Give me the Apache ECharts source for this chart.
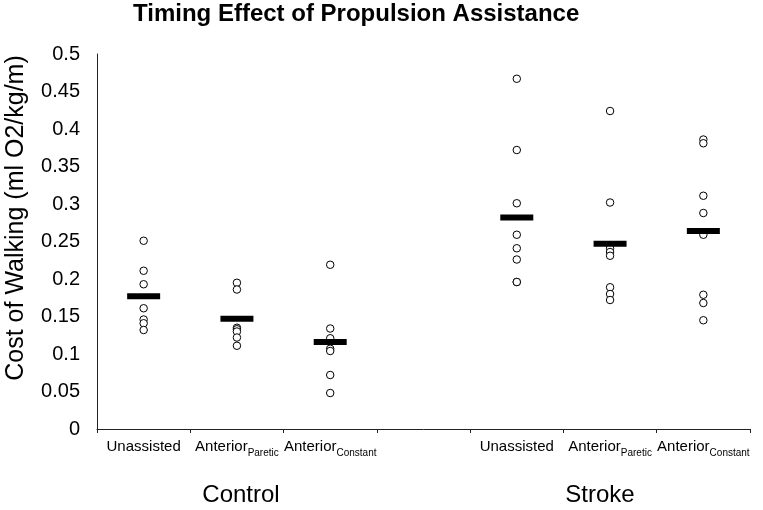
<!DOCTYPE html>
<html>
<head>
<meta charset="utf-8">
<script src="https://cdn.jsdelivr.net/npm/echarts@6/dist/echarts.min.js"></script>
<style>html,body{margin:0;padding:0;background:#fff;}#chart{width:763px;height:510px;}</style>
</head>
<body>
<div id="chart"></div>
<script>
const titleText = 'Timing Effect of Propulsion Assistance';
const yAxisTitle = 'Cost of Walking (ml O2/kg/m)';
const categoryLabels = ['Unassisted', 'Anterior', 'Anterior', '', 'Unassisted', 'Anterior', 'Anterior'];
const categorySubs = ['', 'Paretic', 'Constant', '', '', 'Paretic', 'Constant'];
const groupNames = ['Control', 'Stroke'];
const yTicks = [0, 0.05, 0.1, 0.15, 0.2, 0.25, 0.3, 0.35, 0.4, 0.45, 0.5];

const controlUnassisted = [0.251, 0.211, 0.193, 0.161, 0.146, 0.141, 0.132];
const controlParetic = [0.195, 0.186, 0.135, 0.133, 0.130, 0.122, 0.111];
const controlConstant = [0.219, 0.134, 0.121, 0.107, 0.104, 0.072, 0.048];
const strokeUnassisted = [0.467, 0.372, 0.301, 0.259, 0.241, 0.226, 0.196, 0.196];
const strokeParetic = [0.424, 0.302, 0.241, 0.236, 0.231, 0.189, 0.180, 0.172];
const strokeConstant = [0.386, 0.381, 0.311, 0.288, 0.259, 0.179, 0.168, 0.145];
const groupMeans = [0.177, 0.147, 0.116, null, 0.282, 0.247, 0.264];

const seriesByCategory = [controlUnassisted, controlParetic, controlConstant, [], strokeUnassisted, strokeParetic, strokeConstant];

const pointData = [];
seriesByCategory.forEach((vals, ci) => vals.forEach(v => pointData.push([ci, v])));
const meanData = [];
groupMeans.forEach((v, ci) => { if (v !== null) meanData.push([ci, v]); });

const FONT = 'Liberation Sans, Arial, sans-serif';
const chart = echarts.init(document.getElementById('chart'), null, {renderer: 'canvas'});
const yMin = yTicks[0], yMax = yTicks[yTicks.length - 1], yStep = yTicks[1] - yTicks[0];

chart.setOption({
  animation: false,
  backgroundColor: '#fff',
  title: {
    text: titleText, left: 133, top: 2, padding: 0,
    textStyle: {fontFamily: FONT, fontSize: 24, fontWeight: 'bold', color: '#000'}
  },
  grid: {left: 97, right: 13, top: 54, bottom: 81, containLabel: false},
  xAxis: {
    type: 'category',
    data: categoryLabels.map((_, i) => String(i)),
    boundaryGap: true,
    axisLine: {lineStyle: {color: '#222', width: 1}},
    axisTick: {show: true, length: 4, lineStyle: {color: '#222'}},
    axisLabel: {
      interval: 0, margin: 10, color: '#000', fontFamily: FONT, fontSize: 15,
      formatter: (val) => {
        const i = Number(val);
        const base = categoryLabels[i];
        const sub = categorySubs[i];
        if (!base) return '';
        return '{a|' + base + '}' + (sub ? '{s|' + sub + '}' : '');
      },
      rich: {
        a: {fontFamily: FONT, fontSize: 15, color: '#000', lineHeight: 17, verticalAlign: 'top'},
        s: {fontFamily: FONT, fontSize: 10, color: '#000', lineHeight: 10, padding: [9, 0, 0, 0], verticalAlign: 'top'}
      }
    },
    splitLine: {show: false}
  },
  yAxis: {
    type: 'value', min: yMin, max: yMax, interval: yStep,
    axisLine: {show: true, lineStyle: {color: '#222', width: 1}},
    axisTick: {show: false},
    splitLine: {show: false},
    axisLabel: {
      margin: 17, color: '#000', fontFamily: FONT, fontSize: 20,
      formatter: v => String(Math.round(v * 100) / 100)
    }
  },
  graphic: [
    {type: 'text', x: 16, y: 218, rotation: Math.PI / 2,
     style: {text: yAxisTitle, fontFamily: FONT, fontSize: 25, fill: '#000', align: 'center', verticalAlign: 'middle'}},
    {type: 'text', x: 241, y: 495,
     style: {text: groupNames[0], fontFamily: FONT, fontSize: 24, fill: '#000', align: 'center', verticalAlign: 'middle'}},
    {type: 'text', x: 600, y: 495,
     style: {text: groupNames[1], fontFamily: FONT, fontSize: 24, fill: '#000', align: 'center', verticalAlign: 'middle'}}
  ],
  series: [
    {
      type: 'scatter', data: pointData, symbol: 'circle', symbolSize: 7.5, z: 2,
      itemStyle: {color: '#fff', borderColor: '#000', borderWidth: 1, opacity: 1}
    },
    {
      type: 'scatter', data: meanData, symbol: 'rect', symbolSize: [33, 6], z: 3,
      itemStyle: {color: '#000', opacity: 1}
    }
  ]
});
</script>
</body>
</html>
